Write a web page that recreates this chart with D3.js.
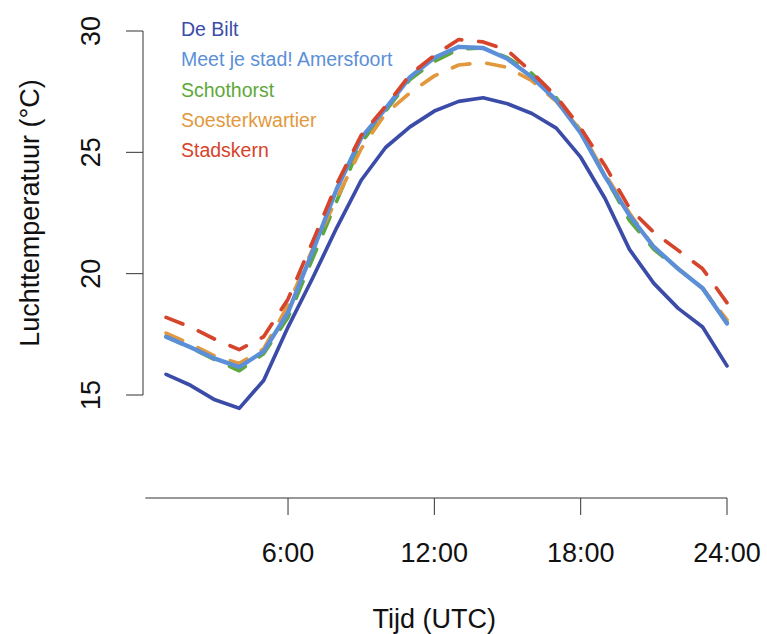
<!DOCTYPE html>
<meta charset="utf-8">
<script src="https://d3js.org/d3.v7.min.js"></script>
<style>
  body { margin: 0; background: #fff; }
  text { font-family: "Liberation Sans", Arial, sans-serif; }
</style>
<svg id="chart" width="767" height="634"></svg>
<script>
// hours of the day (UTC)
var hours = d3.range(1, 25);

// temperatures per station
var deBilt        = [15.85, 15.4, 14.8, 14.45, 15.6, 17.8, 19.8, 21.9, 23.85, 25.2, 26.05, 26.7, 27.1, 27.25, 27.0, 26.6, 26.0, 24.8, 23.1, 21.0, 19.6, 18.57, 17.8, 16.2];
var meetJeStad    = [17.4, 16.97, 16.5, 16.15, 16.8, 18.4, 20.9, 23.5, 25.6, 26.8, 28.1, 28.9, 29.35, 29.3, 28.85, 28.1, 27.15, 25.8, 24.0, 22.4, 21.1, 20.2, 19.4, 17.95];
var schothorst    = [17.4, 16.95, 16.45, 16.0, 16.7, 18.2, 20.6, 23.0, 25.4, 26.7, 28.0, 28.75, 29.25, 29.3, 28.9, 28.25, 27.25, 25.9, 24.0, 22.2, 21.0, 20.2, 19.4, 18.0];
var soester       = [17.55, 17.1, 16.6, 16.3, 16.9, 18.7, 21.0, 23.1, 25.15, 26.6, 27.45, 28.15, 28.6, 28.7, 28.5, 27.95, 27.1, 25.9, 24.1, 22.5, 21.1, 20.2, 19.4, 18.1];
var stadskern     = [18.2, 17.8, 17.3, 16.87, 17.4, 18.95, 21.3, 23.7, 25.7, 26.9, 28.2, 29.0, 29.65, 29.55, 29.2, 28.3, 27.3, 26.0, 24.45, 22.7, 21.7, 20.96, 20.2, 18.8];

var legendNames = ["De Bilt", "Meet je stad! Amersfoort", "Schothorst", "Soesterkwartier", "Stadskern"];
var xTicks = [6, 12, 18, 24];
var xTickLabels = ["6:00", "12:00", "18:00", "24:00"];
var yTicks = [15, 20, 25, 30];

var svg = d3.select("#chart");

var x = d3.scaleLinear().domain([0, 24]).range([141.7, 727]);
var y = d3.scaleLinear().domain([15, 30]).range([395, 31]);

var line = d3.line()
    .x(function(d, i) { return x(hours[i]); })
    .y(function(d) { return y(d); });

// series (drawing order matters for overlap)
var series = [
  { values: deBilt,     color: "#3b4ca8", dash: null,    width: 3.7 },
  { values: schothorst, color: "#5ea83a", dash: "18,17", width: 3.7 },
  { values: soester,    color: "#e2993e", dash: "18,17", width: 3.7 },
  { values: meetJeStad, color: "#5b90d8", dash: null,    width: 4.3 },
  { values: stadskern,  color: "#d6442b", dash: "18,17", width: 3.7 }
];

svg.append("g")
  .selectAll("path")
  .data(series)
  .enter()
  .append("path")
    .attr("d", function(d) { return line(d.values); })
    .attr("fill", "none")
    .attr("stroke", function(d) { return d.color; })
    .attr("stroke-width", function(d) { return d.width; })
    .attr("stroke-dasharray", function(d) { return d.dash; })
    .attr("stroke-linecap", "round")
    .attr("stroke-linejoin", "round");

// x axis
var xAxis = svg.append("g").attr("transform", "translate(0,498)");
xAxis.append("line")
    .attr("x1", x(0.15)).attr("x2", x(24))
    .attr("stroke", "#333").attr("stroke-width", 1);
xAxis.selectAll(".tick")
  .data(xTicks)
  .enter()
  .append("line")
    .attr("x1", function(d) { return x(d); })
    .attr("x2", function(d) { return x(d); })
    .attr("y1", 0).attr("y2", 17)
    .attr("stroke", "#333");
xAxis.selectAll(".lab")
  .data(xTicks)
  .enter()
  .append("text")
    .attr("x", function(d) { return x(d); })
    .attr("y", 64)
    .attr("text-anchor", "middle")
    .style("font-size", "27px")
    .style("fill", "#111")
    .text(function(d, i) { return xTickLabels[i]; });

svg.append("text")
    .attr("x", x(12))
    .attr("y", 628)
    .attr("text-anchor", "middle")
    .style("font-size", "27px")
    .style("fill", "#111")
    .text("Tijd (UTC)");

// y axis
var yAxis = svg.append("g").attr("transform", "translate(143,0)");
yAxis.append("line")
    .attr("x1", 0).attr("x2", 0)
    .attr("y1", y(15)).attr("y2", y(30))
    .attr("stroke", "#333");
yAxis.selectAll(".tick")
  .data(yTicks)
  .enter()
  .append("line")
    .attr("x1", -17).attr("x2", 0)
    .attr("y1", function(d) { return y(d); })
    .attr("y2", function(d) { return y(d); })
    .attr("stroke", "#333");
yAxis.selectAll(".lab")
  .data(yTicks)
  .enter()
  .append("text")
    .attr("transform", function(d) { return "translate(-43," + y(d) + ") rotate(-90)"; })
    .attr("text-anchor", "middle")
    .style("font-size", "27px")
    .style("fill", "#111")
    .text(function(d) { return d; });

svg.append("text")
    .attr("transform", "translate(39," + y(22.5) + ") rotate(-90)")
    .attr("text-anchor", "middle")
    .style("font-size", "27px")
    .style("fill", "#111")
    .text("Luchttemperatuur (°C)");

// legend: coloured text only
var legendColors = ["#3b4ca8", "#5b90d8", "#5ea83a", "#e2993e", "#d6442b"];
svg.append("g")
  .selectAll("text")
  .data(legendNames)
  .enter()
  .append("text")
    .attr("x", 181)
    .attr("y", function(d, i) { return 36 + i * 30.3; })
    .style("font-size", "19.5px")
    .style("fill", function(d, i) { return legendColors[i]; })
    .text(function(d) { return d; });
</script>
